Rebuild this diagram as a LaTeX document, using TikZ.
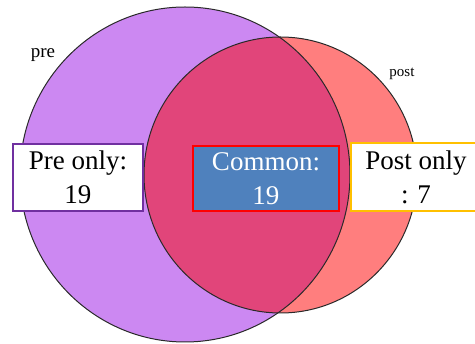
\documentclass[tikz,border=0pt]{standalone}
\usepackage{fontspec}
\setmainfont{Liberation Serif}
\definecolor{prefill}{HTML}{CC88F2}
\definecolor{postfill}{HTML}{FF7E7E}
\definecolor{bothfill}{HTML}{E1457A}
\definecolor{boxblue}{HTML}{4F81BD}
\definecolor{prepurple}{HTML}{7030A0}
\definecolor{postorange}{HTML}{FFC000}
\definecolor{edgegray}{HTML}{2A2A2A}
\begin{document}
\begin{tikzpicture}[x=1pt,y=-1pt,
  outline/.style={draw=edgegray,line width=1pt},
  countbox/.style={rectangle,inner sep=0pt,align=center,line width=2pt,
    font=\fontsize{27}{34}\selectfont},
  setlabel/.style={inner sep=0pt,font=\fontsize{19}{22}\selectfont}]
\useasboundingbox (0,0) rectangle (475,344);
\clip (0,0) rectangle (475,344);
% circles
\fill[prefill] (185,174.5) ellipse [x radius=165, y radius=167.5];
\fill[postfill] (280.5,175) ellipse [x radius=136.5, y radius=138];
\begin{scope}
  \clip (185,174.5) ellipse [x radius=165, y radius=167.5];
  \fill[bothfill] (280.5,175) ellipse [x radius=136.5, y radius=138];
\end{scope}
\draw[outline] (185,174.5) ellipse [x radius=165, y radius=167.5];
\draw[outline] (280.5,175) ellipse [x radius=136.5, y radius=138];
% set labels
\node[setlabel] (prelabel) at (43,55) {pre};
\node[setlabel,font=\fontsize{15}{18}\selectfont] (postlabel) at (402,74) {post};
% count boxes
\node[countbox,draw=prepurple,fill=white,minimum width=130,minimum height=67]
  (preonly) at (78,177.5) {Pre only:\\19};
\node[countbox,draw=red,fill=boxblue,text=white,line width=2.5pt,minimum width=146,minimum height=65]
  (common) at (266,178.5) {Common:\\19};
\node[countbox,draw=postorange,fill=white,minimum width=130,minimum height=68]
  (postonly) at (416,177) {Post only\\: 7};
\end{tikzpicture}
\end{document}
